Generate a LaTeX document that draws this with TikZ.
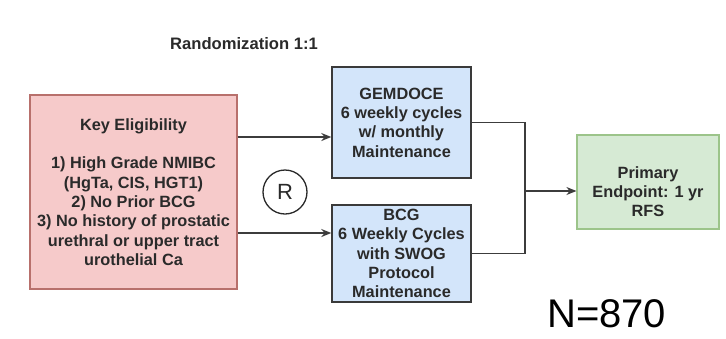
\documentclass[tikz,border=0pt]{standalone}
\usepackage{fontspec}
\setmainfont{Liberation Sans}
\usetikzlibrary{arrows.meta,calc}
\definecolor{pinkfill}{HTML}{F6CACA}
\definecolor{pinkdraw}{HTML}{B8706C}
\definecolor{bluefill}{HTML}{D3E5FA}
\definecolor{bluedraw}{HTML}{3A3A3A}
\definecolor{greenfill}{HTML}{D6EAD4}
\definecolor{greendraw}{HTML}{9CC48A}
\definecolor{txt}{HTML}{2A2A2A}
\definecolor{linec}{HTML}{3C3C3C}
\tikzset{
  x=1pt, y=-1pt,
  boxtext/.style={align=center, text=txt, inner sep=0pt,
    font=\fontsize{16.3}{19.3}\selectfont\bfseries},
  pinkbox/.style={draw=pinkdraw, fill=pinkfill, line width=1.3pt, minimum width=207pt, minimum height=194pt},
  bluebox/.style={draw=bluedraw, fill=bluefill, line width=1.4pt, minimum width=139pt},
  greenbox/.style={draw=greendraw, fill=greenfill, line width=1.2pt, minimum width=142pt, minimum height=94pt},
  conn/.style={draw=linec, line width=1.4pt},
  arr/.style={conn, -{Stealth[length=10pt,width=8pt]}},
}
\begin{document}
\begin{tikzpicture}
\useasboundingbox (0,0) rectangle (726,338);
\fill[white] (0,0) rectangle (726,338);

\node (title) at (244,44) {\fontsize{16.6}{20}\selectfont\bfseries\color{txt}Randomization 1:1};

\node[pinkbox, boxtext] (elig) at (133.5,192) {Key Eligibility\\[19.3pt]1) High Grade NMIBC\\(HgTa, CIS, HGT1)\\2) No Prior BCG\\3) No history of prostatic\\urethral or upper tract\\urothelial Ca};

\node[bluebox, boxtext, minimum height=111pt] (gem) at (401.5,122.5) {GEMDOCE\\6 weekly cycles\\w/ monthly\\Maintenance};

\node[bluebox, boxtext, minimum height=97pt] (bcg) at (401.5,253.5) {BCG\\6 Weekly Cycles\\with SWOG\\Protocol\\Maintenance};

\node[greenbox] (ep) at (648,182) {};
\node[boxtext] (eptext) at (648,191.5) {Primary\\Endpoint: 1 yr\\RFS};

\node[draw=txt, line width=1.3pt, circle, minimum size=44pt, inner sep=0pt, text=txt,
  font=\fontsize{22}{22}\selectfont] (r) at (285,192) {R};

\node[anchor=base west, inner sep=0pt, text depth=0pt, text=black, font=\fontsize{40}{40}\selectfont] (n) at (547,327) {N=870};

\coordinate (a1) at (0,137);
\coordinate (a2) at (0,233);
\coordinate (jx) at (525,0);
\coordinate (jy) at (0,191);

\draw[arr] (elig.east |- a1) -- (gem.west |- a1);
\draw[arr] (elig.east |- a2) -- (bcg.west |- a2);
\draw[conn] (gem.east) -| (jx |- bcg.east) -- (bcg.east);
\draw[arr] (jx |- jy) -- (ep.west |- jy);
\end{tikzpicture}
\end{document}
